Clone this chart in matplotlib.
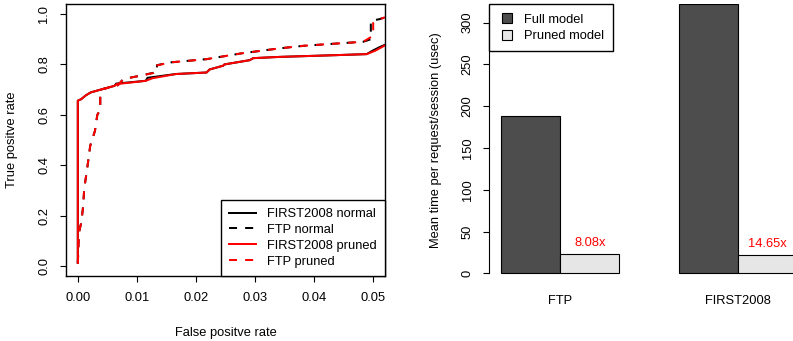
import matplotlib.pyplot as plt
from matplotlib.lines import Line2D

plt.rcParams['font.family'] = ['Liberation Sans', 'DejaVu Sans']
plt.rcParams['font.size'] = 9.25

# ROC curves (false positive rate, true positive rate)
first_norm_fpr = [0, 0, 0.00056, 0.0014, 0.0022, 0.0037, 0.0062, 0.0065, 0.0115, 0.0118, 0.0166, 0.0218,
                  0.0223, 0.0246, 0.0248, 0.0291, 0.0297, 0.0342, 0.0438, 0.0489, 0.0500, 0.0512, 0.052]
first_norm_tpr = [0.013, 0.656, 0.662, 0.678, 0.689, 0.699, 0.715, 0.724, 0.735, 0.747, 0.762, 0.768,
                  0.780, 0.795, 0.800, 0.817, 0.825, 0.830, 0.837, 0.841, 0.856, 0.870, 0.878]
first_prun_fpr = [0, 0, 0.00056, 0.0014, 0.0022, 0.0037, 0.0062, 0.0066, 0.0115, 0.0126, 0.0166, 0.0218,
                  0.0223, 0.0246, 0.0248, 0.0291, 0.0297, 0.0342, 0.0438, 0.0489, 0.0503, 0.0514, 0.052]
first_prun_tpr = [0.013, 0.656, 0.662, 0.678, 0.689, 0.699, 0.715, 0.722, 0.735, 0.745, 0.762, 0.768,
                  0.780, 0.795, 0.800, 0.817, 0.825, 0.830, 0.837, 0.841, 0.854, 0.868, 0.876]

ftp_norm_fpr = [0, 0.0002, 0.00056, 0.00085, 0.0011, 0.0015, 0.0021, 0.0029, 0.0033, 0.0038, 0.0038,
                0.0060, 0.0068, 0.0077, 0.0105, 0.0134, 0.0134, 0.0156, 0.0218, 0.0277, 0.0342,
                0.0382, 0.0438, 0.0483, 0.0496, 0.0496, 0.0511, 0.052]
ftp_norm_tpr = [0.01, 0.133, 0.170, 0.225, 0.310, 0.372, 0.477, 0.536, 0.600, 0.620, 0.700,
                0.712, 0.718, 0.742, 0.755, 0.770, 0.797, 0.808, 0.821, 0.844, 0.864,
                0.874, 0.883, 0.890, 0.900, 0.973, 0.980, 0.987]
ftp_prun_fpr = [0, 0.0002, 0.00056, 0.00085, 0.0011, 0.0015, 0.0021, 0.0029, 0.0033, 0.0038, 0.0038,
                0.0060, 0.0068, 0.0077, 0.0105, 0.0128, 0.0132, 0.0156, 0.0218, 0.0277, 0.0342,
                0.0382, 0.0438, 0.0483, 0.0500, 0.0500, 0.0511, 0.052]
ftp_prun_tpr = [0.01, 0.133, 0.170, 0.225, 0.310, 0.372, 0.477, 0.536, 0.600, 0.620, 0.700,
                0.712, 0.718, 0.742, 0.755, 0.766, 0.795, 0.808, 0.821, 0.844, 0.864,
                0.874, 0.883, 0.890, 0.914, 0.965, 0.980, 0.987]

# timing bars
datasets = ['FTP', 'FIRST2008']
full_time = [188.3, 322.0]
pruned_time = [23.3, 22.0]
speedup = ['8.08x', '14.65x']

fig = plt.figure(figsize=(7.93, 3.41), dpi=100)
W, H = 793, 341

def px_axes(l, t, r, b):
    return fig.add_axes([l / W, 1 - b / H, (r - l) / W, (b - t) / H])

# ---- left: ROC
ax = px_axes(66, 4, 385, 276)
lw = 1.45
ax.plot(first_norm_fpr, first_norm_tpr, color='black', lw=lw, label='FIRST2008 normal')
ax.plot(ftp_norm_fpr, ftp_norm_tpr, color='black', lw=lw, dashes=(4, 4), label='FTP normal')
ax.plot(first_prun_fpr, first_prun_tpr, color='red', lw=lw, label='FIRST2008 pruned')
ax.plot(ftp_prun_fpr, ftp_prun_tpr, color='red', lw=lw, dashes=(4, 4), label='FTP pruned')
ax.set_xlim(-0.002, 0.052)
ax.set_ylim(-0.04, 1.04)
ax.set_xticks([0, 0.01, 0.02, 0.03, 0.04, 0.05])
ax.set_xticklabels(['0.00', '0.01', '0.02', '0.03', '0.04', '0.05'])
ax.set_yticks([0, 0.2, 0.4, 0.6, 0.8, 1.0])
ax.set_yticklabels(['0.0', '0.2', '0.4', '0.6', '0.8', '1.0'], rotation=90, va='center')
ax.tick_params(direction='out', length=4.3, width=0.8, pad=7)
for s in ax.spines.values():
    s.set_linewidth(1.0)
leg = ax.legend(loc='lower right', borderaxespad=0, fancybox=False, framealpha=1,
                edgecolor='black', handlelength=2.1, handletextpad=0.83, labelspacing=0.3,
                borderpad=0.65)
leg.get_frame().set_linewidth(1.0)
fig.text(12 / W, 1 - 140 / H, 'True positve rate', rotation=90, ha='center', va='center')
fig.text(225.5 / W, 1 - 332.7 / H, 'False positve rate', ha='center', va='center')

# ---- right: bar chart
bx = fig.add_axes([489.2 / W, 1 - 284.2 / H, 319.6 / W, 279.9 / H])
pos_full = [1.5, 4.5]
pos_prun = [2.5, 5.5]
bx.bar(pos_full, full_time, width=1.0, color='#4d4d4d', edgecolor='black', lw=0.8)
bx.bar(pos_prun, pruned_time, width=1.0, color='#e6e6e6', edgecolor='black', lw=0.8)
for x, v, s in zip(pos_prun, pruned_time, speedup):
    bx.text(x, v + 13.5, s, color='red', ha='center', va='center')
bx.set_xlim(0.8, 6.2)
bx.set_ylim(-13, 322)
for k in ['top', 'right', 'bottom']:
    bx.spines[k].set_visible(False)
bx.spines['left'].set_bounds(0, 300)
bx.spines['left'].set_linewidth(0.8)
bx.set_yticks([0, 50, 100, 150, 200, 250, 300])
bx.set_yticklabels(['0', '50', '100', '150', '200', '250', '300'], rotation=90, va='center')
bx.set_xticks([2, 5])
bx.set_xticklabels(datasets)
bx.tick_params(axis='y', direction='out', length=4.3, width=0.8, pad=7)
bx.tick_params(axis='x', length=0, pad=8)
handles = [Line2D([], [], ls='none', marker='s', markersize=7, markerfacecolor='#4d4d4d',
                  markeredgecolor='black', markeredgewidth=0.8, label='Full model'),
           Line2D([], [], ls='none', marker='s', markersize=7, markerfacecolor='#e6e6e6',
                  markeredgecolor='black', markeredgewidth=0.8, label='Pruned model')]
leg2 = bx.legend(handles=handles, loc='upper left', bbox_to_anchor=(0, 1), borderaxespad=0,
                 fancybox=False, framealpha=1, edgecolor='black', handlelength=1.3,
                 handletextpad=0.65, labelspacing=0.35, borderpad=0.72)
leg2.get_frame().set_linewidth(1.0)
fig.text(436 / W, 1 - 140 / H, 'Mean time per request/session (usec)', rotation=90,
         ha='center', va='center')

fig.savefig('out.png', dpi=100)
